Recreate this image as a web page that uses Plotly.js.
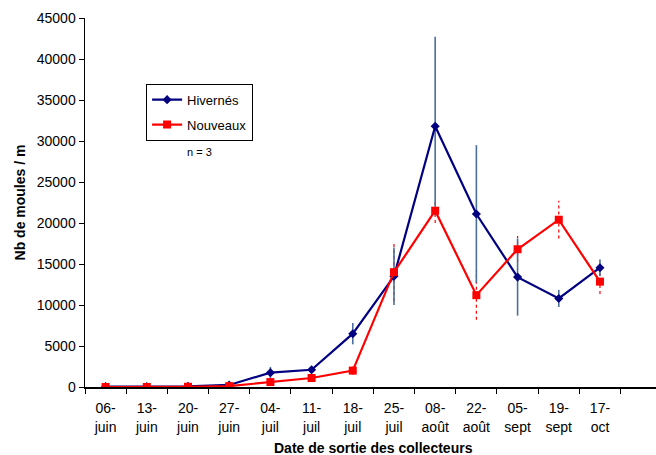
<!DOCTYPE html>
<html><head><meta charset="utf-8">
<script src="https://cdn.plot.ly/plotly-3.0.1.min.js"></script>
<style>html,body{margin:0;padding:0;background:#fff;overflow:hidden}</style>
</head><body><div id="c" style="width:656px;height:455px"></div>
<script>
const categories = ["06-<br>juin","13-<br>juin","20-<br>juin","27-<br>juin","04-<br>juil","11-<br>juil","18-<br>juil","25-<br>juil","08-<br>août","22-<br>août","05-<br>sept","19-<br>sept","17-<br>oct"];
const hivernes = [50, 50, 80, 250, 1750, 2100, 6500, 13500, 31800, 21100, 13400, 10800, 14550];
const hivernesErr = [0, 0, 0, 100, 700, 200, 1300, 3500, 10900, 8400, 4700, 1050, 1000];
const nouveaux = [0, 0, 30, 100, 600, 1100, 2000, 14000, 21500, 11200, 16800, 20400, 12850];
const nouveauxErr = [0, 0, 0, 50, 200, 200, 500, 3500, 1500, 3000, 1600, 2300, 1500];

const errX = [], errY = [];
categories.forEach((c, i) => {
  if (nouveauxErr[i] > 0) {
    errX.push(c, c, null);
    errY.push(nouveaux[i] - nouveauxErr[i], nouveaux[i] + nouveauxErr[i], null);
  }
});

const traces = [
  {x: errX, y: errY, type: 'scatter', mode: 'lines', showlegend: false, hoverinfo: 'skip',
   line: {color: '#ff0000', width: 1.2, dash: 'dot'}},
  {x: categories, y: hivernes, type: 'scatter', mode: 'lines+markers', name: 'Hivernés',
   legendgroup: 'a',
   line: {color: '#000080', width: 2.2}, marker: {symbol: 'diamond', size: 7, color: '#000080'},
   error_y: {type: 'data', array: hivernesErr, visible: true, color: '#4a6f9c', thickness: 1.6, width: 0}},
  {x: categories, y: nouveaux, type: 'scatter', mode: 'lines+markers', name: 'Nouveaux',
   legendgroup: 'b',
   line: {color: '#ff0000', width: 2.2}, marker: {symbol: 'square', size: 8, color: '#ff0000'}}
];

const layout = {
  width: 656, height: 455,
  margin: {l: 85, r: 0, t: 18, b: 68},
  paper_bgcolor: '#fff', plot_bgcolor: '#fff',
  font: {family: 'Liberation Sans, Arial, sans-serif', size: 13, color: '#000'},
  showlegend: true,
  legend: {x: 0.107, y: 0.822, xanchor: 'left', yanchor: 'top', bordercolor: '#000', borderwidth: 1,
           bgcolor: '#fff', font: {size: 13}, traceorder: 'grouped', tracegroupgap: 5, itemwidth: 30},
  xaxis: {type: 'category', categoryorder: 'array', categoryarray: categories,
          range: [-0.5, 13.36], tickson: 'boundaries', ticks: 'outside', ticklen: 5,
          tickcolor: '#000', showline: true, linecolor: '#000', linewidth: 1.5, showgrid: false, zeroline: false,
          tickfont: {size: 14}, ticklabelstandoff: 8},
  yaxis: {range: [0, 45000], dtick: 5000, tickformat: 'd', ticks: 'outside', ticklen: 5, tickcolor: '#000',
          showline: true, linecolor: '#000', linewidth: 1.5, showgrid: false, zeroline: false,
          tickfont: {size: 14},
          title: {text: '<b>Nb de moules / m</b>', font: {size: 14}, standoff: 8}},
  annotations: [
    {xref: 'paper', yref: 'paper', x: (185-85)/571, y: (387-152)/369, text: 'n = 3',
     showarrow: false, font: {size: 11}},
    {xref: 'paper', yref: 'paper', x: (373-85)/571, y: (387-448)/369, yanchor: 'middle',
     text: '<b>Date de sortie des collecteurs</b>', showarrow: false, font: {size: 14}}
  ]
};
Plotly.newPlot('c', traces, layout, {displayModeBar: false, staticPlot: true});
</script></body></html>
